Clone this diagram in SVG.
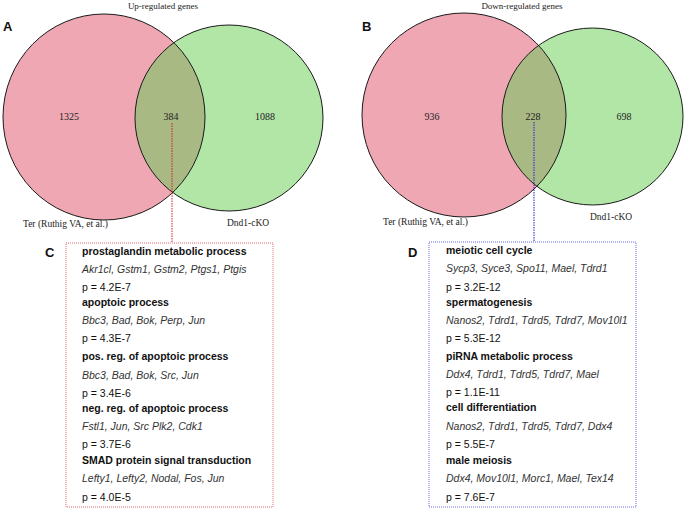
<svg xmlns="http://www.w3.org/2000/svg" width="685" height="511" viewBox="0 0 685 511">
<style>
.pink{fill:#EFA8B3}
.green{fill:#B1E6A7}
.lens{fill:#A9B984}
.ol{fill:none;stroke:#1a1a1a;stroke-width:1}
.ser{font-family:"Liberation Serif",serif;fill:#222}
.num{font-size:10px;text-anchor:middle}
.ttl{font-size:9px;text-anchor:middle}
.lab{font-size:9.5px}
.let{font-family:"Liberation Sans",Arial,sans-serif;font-weight:bold;font-size:13px;fill:#111}
.t{font-family:"Liberation Sans",Arial,sans-serif;font-size:10.5px;fill:#111}
.b{font-weight:bold}
.i{font-style:italic;fill:#333}
</style>
<defs>
<clipPath id="cA"><ellipse cx="104" cy="117" rx="101" ry="103"/></clipPath>
<clipPath id="cB"><ellipse cx="464" cy="115" rx="102" ry="102"/></clipPath>
</defs>
<rect width="685" height="511" fill="#fff"/>
<g id="vennA">
<ellipse class="pink" cx="104" cy="117" rx="101" ry="103"/>
<ellipse class="green" cx="229" cy="118" rx="94" ry="93"/>
<ellipse class="lens" cx="229" cy="118" rx="94" ry="93" clip-path="url(#cA)"/>
<ellipse class="ol" cx="104" cy="117" rx="101" ry="103"/>
<ellipse class="ol" cx="229" cy="118" rx="94" ry="93"/>
<text class="ser ttl" x="163" y="9">Up-regulated genes</text>
<text class="let" x="3" y="31">A</text>
<text class="ser num" x="69" y="120">1325</text>
<text class="ser num" x="171" y="120">384</text>
<text class="ser num" x="265" y="120">1088</text>
<text class="ser lab" x="23" y="227">Ter (Ruthig VA, et al.)</text>
<text class="ser lab" x="227" y="226">Dnd1-cKO</text>
</g>
<g id="vennB">
<ellipse class="pink" cx="464" cy="115" rx="102" ry="102"/>
<ellipse class="green" cx="592.5" cy="116.5" rx="90.5" ry="88.5"/>
<ellipse class="lens" cx="592.5" cy="116.5" rx="90.5" ry="88.5" clip-path="url(#cB)"/>
<ellipse class="ol" cx="464" cy="115" rx="102" ry="102"/>
<ellipse class="ol" cx="592.5" cy="116.5" rx="90.5" ry="88.5"/>
<text class="ser ttl" x="522" y="9">Down-regulated genes</text>
<text class="let" x="362" y="31">B</text>
<text class="ser num" x="432" y="120">936</text>
<text class="ser num" x="533" y="120">228</text>
<text class="ser num" x="624" y="120">698</text>
<text class="ser lab" x="383" y="225">Ter (Ruthig VA, et al.)</text>
<text class="ser lab" x="590" y="220">Dnd1-cKO</text>
</g>
<g id="connectors">
<line x1="172" y1="123" x2="172" y2="243" stroke="#D42020" stroke-width="1" stroke-dasharray="1.5,1"/>
<line x1="534" y1="122" x2="534" y2="242" stroke="#2020D8" stroke-width="1" stroke-dasharray="1.5,1"/>
</g>
<g id="boxC">
<rect x="66" y="243" width="207" height="264" fill="#fff" stroke="#E86A72" stroke-width="1" stroke-dasharray="1,1"/>
<text class="let" x="45" y="257">C</text>
<text class="t b" x="82" y="255">prostaglandin metabolic process</text>
<text class="t i" x="82" y="273">Akr1cl, Gstm1, Gstm2, Ptgs1, Ptgis</text>
<text class="t" x="82" y="291">p = 4.2E-7</text>
<text class="t b" x="82" y="306">apoptoic process</text>
<text class="t i" x="82" y="324">Bbc3, Bad, Bok, Perp, Jun</text>
<text class="t" x="82" y="342">p = 4.3E-7</text>
<text class="t b" x="82" y="360">pos. reg. of apoptoic process</text>
<text class="t i" x="82" y="379">Bbc3, Bad, Bok, Src, Jun</text>
<text class="t" x="82" y="397">p = 3.4E-6</text>
<text class="t b" x="82" y="412">neg. reg. of apoptoic process</text>
<text class="t i" x="82" y="430">Fstl1, Jun, Src Plk2, Cdk1</text>
<text class="t" x="82" y="448">p = 3.7E-6</text>
<text class="t b" x="82" y="464">SMAD protein signal transduction</text>
<text class="t i" x="82" y="482">Lefty1, Lefty2, Nodal, Fos, Jun</text>
<text class="t" x="82" y="501">p = 4.0E-5</text>
</g>
<g id="boxD">
<rect x="429" y="242" width="207" height="265" fill="#fff" stroke="#6A6AEA" stroke-width="1" stroke-dasharray="1,1"/>
<text class="let" x="408" y="257">D</text>
<text class="t b" x="446" y="254">meiotic cell cycle</text>
<text class="t i" x="446" y="272">Sycp3, Syce3, Spo11, Mael, Tdrd1</text>
<text class="t" x="446" y="291">p = 3.2E-12</text>
<text class="t b" x="446" y="306">spermatogenesis</text>
<text class="t i" x="446" y="324">Nanos2, Tdrd1, Tdrd5, Tdrd7, Mov10l1</text>
<text class="t" x="446" y="342">p = 5.3E-12</text>
<text class="t b" x="446" y="360">piRNA metabolic process</text>
<text class="t i" x="446" y="378">Ddx4, Tdrd1, Tdrd5, Tdrd7, Mael</text>
<text class="t" x="446" y="396">p = 1.1E-11</text>
<text class="t b" x="446" y="411">cell differentiation</text>
<text class="t i" x="446" y="430">Nanos2, Tdrd1, Tdrd5, Tdrd7, Ddx4</text>
<text class="t" x="446" y="448">p = 5.5E-7</text>
<text class="t b" x="446" y="464">male meiosis</text>
<text class="t i" x="446" y="482">Ddx4, Mov10l1, Morc1, Mael, Tex14</text>
<text class="t" x="446" y="501">p = 7.6E-7</text>
</g>
</svg>
